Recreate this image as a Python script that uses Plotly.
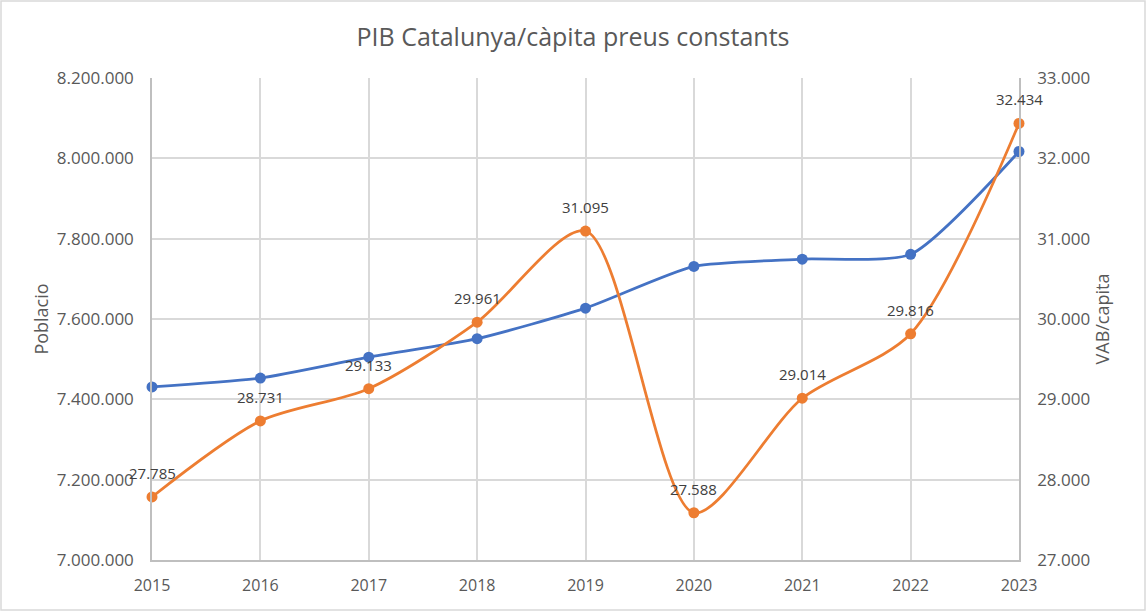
import plotly.graph_objects as go

# Data
anys = [2015, 2016, 2017, 2018, 2019, 2020, 2021, 2022, 2023]
poblacio = [7431000, 7453000, 7505000, 7551000, 7627000, 7731000, 7749000, 7761000, 8017000]
vab_capita = [27785, 28731, 29133, 29961, 31095, 27588, 29014, 29816, 32434]

left_ticks = [7000000, 7200000, 7400000, 7600000, 7800000, 8000000, 8200000]
right_ticks = [27000, 28000, 29000, 30000, 31000, 32000, 33000]

grey_text = '#595959'
label_text = '#404040'
grid = '#d9d9d9'
font_name = 'Open Sans'

fig = go.Figure()

fig.add_trace(go.Scatter(
    x=anys, y=poblacio, name='Poblacio',
    mode='lines+markers',
    line=dict(color='#4472C4', width=2.75, shape='spline', smoothing=0.6),
    marker=dict(color='#4472C4', size=11),
    cliponaxis=False,
))

fig.add_trace(go.Scatter(
    x=anys, y=vab_capita, name='VAB/capita', yaxis='y2',
    mode='lines+markers',
    line=dict(color='#ED7D31', width=2.75, shape='spline', smoothing=0.8),
    marker=dict(color='#ED7D31', size=11),
    cliponaxis=False,
))

# data labels above the orange points
for x, v in zip(anys, vab_capita):
    fig.add_annotation(x=x, y=v, yref='y2', text=f'{v:,}'.replace(',', '.'),
                       showarrow=False, yshift=24,
                       font=dict(size=15, color=label_text, family=font_name))

fig.update_layout(
    width=1146, height=611,
    autosize=False,
    margin=dict(l=152, r=127, t=78, b=51, autoexpand=False),
    paper_bgcolor='white', plot_bgcolor='white',
    separators=',.',
    showlegend=False,
    font=dict(family=font_name, color=grey_text, size=16),
    title=dict(text='PIB Catalunya/càpita preus constants',
               x=0.5, xanchor='center', y=1 - 37 / 611, yanchor='middle',
               font=dict(size=25, color=grey_text, family=font_name)),
    xaxis=dict(
        range=[2015, 2023], tickvals=anys, ticks='',
        showgrid=True, gridcolor=grid, gridwidth=1.5,
        showline=True, linecolor='#bfbfbf', linewidth=1.5,
        zeroline=False, ticklabelstandoff=10,
        tickfont=dict(size=16, color=grey_text),
    ),
    yaxis=dict(
        title=dict(text='Poblacio', font=dict(size=18, color=grey_text), standoff=4),
        range=[7000000, 8200000], tickvals=left_ticks, tickformat=',d',
        showgrid=True, gridcolor=grid, gridwidth=1.5,
        showline=True, linecolor='#bfbfbf', linewidth=1.5,
        zeroline=False, ticks='', ticklabelstandoff=13,
        tickfont=dict(size=17, color=grey_text),
    ),
    yaxis2=dict(
        title=dict(text='VAB/capita', font=dict(size=18, color=grey_text), standoff=6),
        overlaying='y', side='right',
        range=[27000, 33000], tickvals=right_ticks, tickformat=',d',
        showgrid=False, showline=True, linecolor='#bfbfbf', linewidth=1.5,
        zeroline=False, ticks='', ticklabelstandoff=13,
        tickfont=dict(size=17, color=grey_text),
    ),
)

# light border around the whole chart
fig.add_shape(type='rect', xref='paper', yref='paper',
              x0=-151 / 867, x1=(1145 - 152) / 867, y0=-50 / 482, y1=1 + 77 / 482,
              line=dict(color='#d9d9d9', width=1.5), layer='below')

fig.write_html('out.html', config={'displayModeBar': False},
               post_script="document.body.style.margin='0px';")
